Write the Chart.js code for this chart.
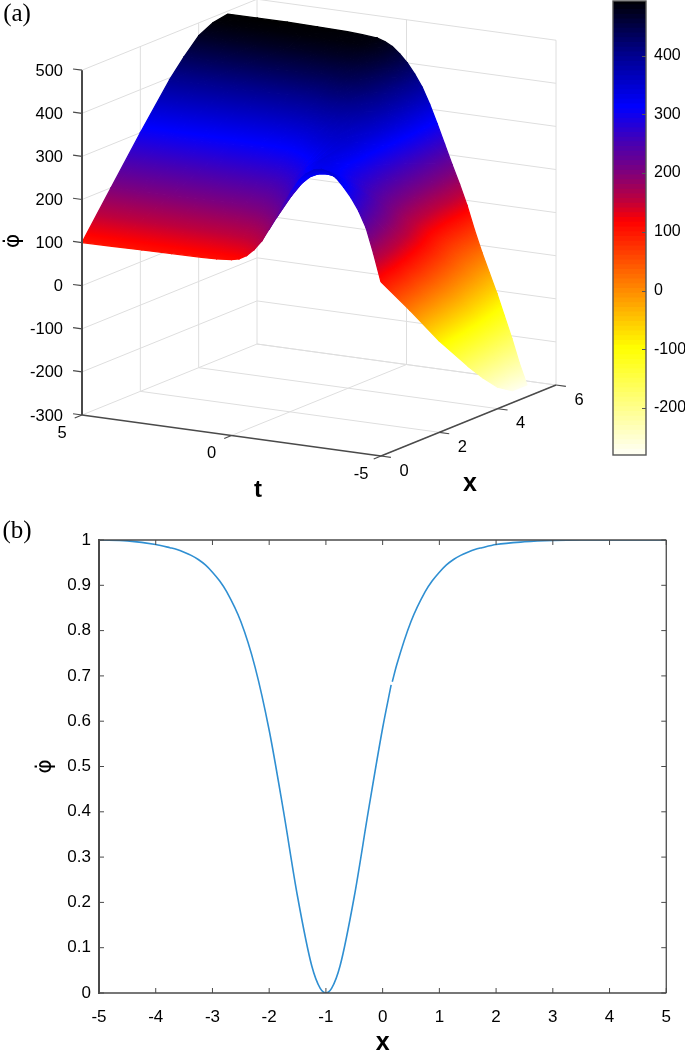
<!DOCTYPE html>
<html>
<head>
<meta charset="utf-8">
<title>Surface and profile</title>
<script src="https://cdn.jsdelivr.net/npm/chart.js@4"></script>
<style>
  html, body { margin: 0; padding: 0; background: #fff; }
  #page { position: relative; width: 685px; height: 1051px; overflow: hidden; }
  canvas { position: absolute; }
</style>
</head>
<body>
<div id="page">
  <canvas id="surfaceChart" width="685" height="510" style="left:0;top:0"></canvas>
  <canvas id="colorbarChart" width="85" height="470" style="left:600px;top:0"></canvas>
  <canvas id="profileChart" width="685" height="541" style="left:0;top:510px"></canvas>
</div>
<script>
// panel (a): phi, one row per x, one value per t
const tValues = [5, 4, 3, 2, 1, 0.5, 0, -0.25, -0.5, -0.75, -1, -1.25, -1.5, -1.75, -2, -2.25, -2.5, -2.75, -3, -3.25, -3.5, -3.75, -4, -4.25, -4.5, -4.75, -5];
const xValues = [0, 1, 2, 3, 3.5, 4, 4.5, 5];
const phiAtX0 = [100, 101, 102, 103, 104, 105, 108, 112, 122, 138, 160, 190, 220, 252, 285, 313, 331, 342, 346, 342, 331, 312, 290, 262, 225, 168, 104];
const phiAtX1 = [200, 200, 200, 201, 203, 205, 212, 220, 232, 247, 265, 286, 305, 320, 330, 328, 318, 306, 293, 280, 265, 242, 215, 182, 140, 85, 10];
const phiAtX2 = [300, 300, 300, 301, 303, 306, 312, 319, 328, 337, 345, 350, 352, 351, 345, 325, 295, 270, 245, 220, 195, 170, 143, 105, 60, -5, -88];
const phiAtX3 = [395, 395, 395, 396, 398, 400, 405, 409, 412, 410, 405, 396, 385, 367, 345, 310, 270, 235, 200, 165, 130, 102, 71, 30, -20, -90, -175];
const phiAtX35 = [435, 435, 435, 436, 438, 439, 440, 441, 440, 434, 425, 412, 395, 372, 342, 302, 258, 220, 180, 140, 100, 68, 35, -10, -60, -130, -215];
const phiAtX4 = [470, 470, 470, 470, 470, 470, 468, 464, 458, 447, 432, 415, 395, 368, 335, 292, 245, 205, 160, 115, 70, 35, 0, -48, -100, -170, -250];
const phiAtX45 = [487, 487, 487, 487, 486, 485, 482, 476, 468, 455, 437, 417, 392, 360, 322, 278, 230, 188, 145, 95, 45, 5, -35, -85, -135, -205, -272];
const phiAtX5 = [493, 493, 493, 492, 490, 488, 485, 479, 470, 455, 437, 413, 385, 348, 305, 260, 215, 172, 125, 70, 20, -25, -70, -120, -170, -225, -272];
const surfaceRows = [phiAtX0, phiAtX1, phiAtX2, phiAtX3, phiAtX35, phiAtX4, phiAtX45, phiAtX5];

const zTicks = [-300, -200, -100, 0, 100, 200, 300, 400, 500];
const tTicks = [5, 0, -5];
const xTicks = [0, 2, 4, 6];
const colorbarTicks = [-200, -100, 0, 100, 200, 300, 400];
const colorbarRange = [-280, 493];

const cmapLevels = [-280, -100, 0, 115, 150, 200, 250, 310, 400, 493];
const cmapColors = [[255, 255, 245], [255, 255, 0], [255, 136, 0], [255, 0, 0], [190, 0, 60], [125, 0, 125], [70, 0, 180], [0, 0, 255], [0, 0, 140], [0, 0, 0]];

// panel (b), the null is the small break in the curve just right of x = 0
const profileX = [-5, -4.5, -4, -3.75, -3.625, -3.5, -3.375, -3.25, -3.125, -3, -2.875, -2.75, -2.5, -2.25, -2, -1.75, -1.5, -1.25, -1.1, -1, -0.9, -0.75, -0.5, -0.25, 0, 0.15, 0.16, 0.17, 0.25, 0.5, 0.75, 0.875, 1, 1.125, 1.25, 1.375, 1.5, 1.625, 1.75, 2, 2.5, 3, 3.5, 4, 4.5, 5];
const profilePhi = [1, 0.998, 0.99, 0.983, 0.979, 0.973, 0.966, 0.957, 0.945, 0.929, 0.91, 0.886, 0.82, 0.72, 0.58, 0.403, 0.213, 0.06, 0.01, 0, 0.01, 0.06, 0.213, 0.403, 0.585, 0.68, null, 0.687, 0.725, 0.82, 0.886, 0.91, 0.929, 0.945, 0.957, 0.966, 0.973, 0.979, 0.983, 0.99, 0.996, 0.999, 1, 1, 1, 1];
const profileXTicks = [-5, -4, -3, -2, -1, 0, 1, 2, 3, 4, 5];
const profileYTicks = [0, 0.1, 0.2, 0.3, 0.4, 0.5, 0.6, 0.7, 0.8, 0.9, 1];

const tickFont = '16.5px "Liberation Sans"';
const inkColor = '#000';
const axisColor = '#4a4a4a';
const gridColor = '#dedede';
const phiLabel = '\u03c6\u0307';

// fixed view of the 3D box onto the flat x/y scales of the top chart
function project(x, t, z) {
  return {
    x: 82 + 29.9 * (5 - t) + 29.17 * x,
    y: 415 + 4.1 * (5 - t) - 11.83 * x - 0.431 * (z + 300)
  };
}

function colorAt(z) {
  let i = 0;
  while (i < cmapLevels.length - 2 && z > cmapLevels[i + 1]) i++;
  const f = Math.min(1, Math.max(0, (z - cmapLevels[i]) / (cmapLevels[i + 1] - cmapLevels[i])));
  const a = cmapColors[i], b = cmapColors[i + 1];
  return 'rgb(' + [0, 1, 2].map(k => Math.round(a[k] + (b[k] - a[k]) * f)).join(',') + ')';
}

// each triangle has phi linear over it, so one linear gradient shades it exactly
function triangleGradient(chart, tri) {
  const sx = chart.scales.x, sy = chart.scales.y;
  const zs = tri.map(v => v.z);
  const lo = Math.min(...zs), hi = Math.max(...zs);
  if (!sx || !sy) return colorAt((lo + hi) / 2);
  const p = tri.map(v => ({ x: sx.getPixelForValue(v.pos.x), y: sy.getPixelForValue(v.pos.y), z: v.z }));
  const ux = p[1].x - p[0].x, uy = p[1].y - p[0].y, uz = p[1].z - p[0].z;
  const vx = p[2].x - p[0].x, vy = p[2].y - p[0].y, vz = p[2].z - p[0].z;
  const det = ux * vy - uy * vx;
  // scales have no pixels yet on the first pass, det is NaN then
  if (!(Math.abs(det) >= 0.01) || hi - lo < 0.5) return colorAt((lo + hi) / 2);
  const gx = (uz * vy - uy * vz) / det, gy = (ux * vz - uz * vx) / det;
  const g2 = gx * gx + gy * gy;
  const start = p[zs.indexOf(lo)];
  const grad = chart.ctx.createLinearGradient(start.x, start.y,
    start.x + gx * (hi - lo) / g2, start.y + gy * (hi - lo) / g2);
  grad.addColorStop(0, colorAt(lo));
  cmapLevels.forEach(level => {
    if (level > lo && level < hi) grad.addColorStop((level - lo) / (hi - lo), colorAt(level));
  });
  grad.addColorStop(1, colorAt(hi));
  return grad;
}

function triangleDataset(tri) {
  const paint = ctx => triangleGradient(ctx.chart, tri);
  const pts = tri.map(v => v.pos);
  return {
    data: [pts[0], pts[1], pts[2], pts[0]],
    fill: 'shape',
    backgroundColor: paint,
    borderColor: paint,
    borderWidth: 1.3,
    borderJoinStyle: 'round',
    pointRadius: 0
  };
}

function lineDataset(a, b, color, width) {
  return { data: [a, b], borderColor: color, borderWidth: width, pointRadius: 0, fill: false };
}

// first dataset is painted last, so: axes, then the surface near to far, then the grid
const axisSets = [];
const surfaceSets = [];
const gridSets = [];

const zLow = zTicks[0], zHigh = zTicks[zTicks.length - 1];
const xHigh = xTicks[xTicks.length - 1];

zTicks.forEach(z => {
  gridSets.push(lineDataset(project(0, 5, z), project(xHigh, 5, z), gridColor, 1));
  gridSets.push(lineDataset(project(xHigh, 5, z), project(xHigh, -5, z), gridColor, 1));
  axisSets.push(lineDataset(project(0, 5, z), project(0, 5.3, z), axisColor, 1.2));
});
xTicks.slice(1).forEach(x => {
  gridSets.push(lineDataset(project(x, 5, zLow), project(x, 5, zHigh), gridColor, 1));
  gridSets.push(lineDataset(project(x, 5, zLow), project(x, -5, zLow), gridColor, 1));
});
tTicks.slice(1).forEach(t => {
  gridSets.push(lineDataset(project(xHigh, t, zLow), project(xHigh, t, zHigh), gridColor, 1));
  gridSets.push(lineDataset(project(0, t, zLow), project(xHigh, t, zLow), gridColor, 1));
});
axisSets.push(lineDataset(project(0, 5, zLow), project(0, 5, zHigh), axisColor, 2));
axisSets.push(lineDataset(project(0, 5, zLow), project(0, -5, zLow), axisColor, 1.4));
axisSets.push(lineDataset(project(0, -5, zLow), project(xHigh, -5, zLow), axisColor, 1.4));
tTicks.forEach(t => axisSets.push(lineDataset(project(0, t, zLow), project(-0.25, t, zLow), axisColor, 1.1)));
xTicks.forEach(x => axisSets.push(lineDataset(project(x, -5, zLow), project(x, -5.33, zLow), axisColor, 1.1)));

function vertex(i, j) {
  const x = xValues[i], t = tValues[j], z = surfaceRows[i][j];
  return { pos: project(x, t, z), z: z };
}
for (let i = 0; i < xValues.length - 1; i++) {
  for (let j = tValues.length - 2; j >= 0; j--) {
    surfaceSets.push(triangleDataset([vertex(i, j + 1), vertex(i + 1, j + 1), vertex(i, j)]));
    surfaceSets.push(triangleDataset([vertex(i + 1, j + 1), vertex(i + 1, j), vertex(i, j)]));
  }
}

function drawText(ctx, text, x, y, font, align, rotate) {
  ctx.save();
  ctx.font = font;
  ctx.fillStyle = inkColor;
  ctx.textAlign = align || 'center';
  ctx.textBaseline = 'middle';
  ctx.translate(x, y);
  if (rotate) ctx.rotate(rotate);
  ctx.fillText(text, 0, 0);
  ctx.restore();
}

const surfaceLabels = {
  id: 'surfaceLabels',
  afterDraw(chart) {
    const ctx = chart.ctx, sx = chart.scales.x, sy = chart.scales.y;
    const at = p => ({ x: sx.getPixelForValue(p.x), y: sy.getPixelForValue(p.y) });
    zTicks.forEach(z => {
      const p = at(project(0, 5, z));
      drawText(ctx, String(z), p.x - 19, p.y + 1, tickFont, 'right');
    });
    tTicks.forEach(t => {
      const p = at(project(0, t, zLow));
      drawText(ctx, String(t), p.x - 20, p.y + 18, tickFont);
    });
    xTicks.forEach(x => {
      const p = at(project(x, -5, zLow));
      drawText(ctx, String(x), p.x + 23, p.y + 15, tickFont);
    });
    drawText(ctx, 't', 258, 490, 'bold 24px "Liberation Sans"');
    drawText(ctx, 'x', 470, 484, 'bold 25px "Liberation Sans"');
    drawText(ctx, phiLabel, 13, 241, '22px "DejaVu Sans"', 'center', -Math.PI / 2);
    drawText(ctx, '(a)', 17, 14, '25px "Liberation Serif"');
  }
};

new Chart(document.getElementById('surfaceChart'), {
  type: 'line',
  data: { datasets: axisSets.concat(surfaceSets, gridSets) },
  options: {
    responsive: false,
    animation: false,
    events: [],
    layout: { padding: 0 },
    plugins: { legend: { display: false }, tooltip: { enabled: false } },
    scales: {
      x: { type: 'linear', min: 0, max: 685, display: false },
      y: { type: 'linear', min: 0, max: 510, reverse: true, display: false }
    }
  },
  plugins: [surfaceLabels]
});

// colour bar: floating bars, one per colour band
const bandCount = 96;
const bandSets = [];
for (let b = 0; b < bandCount; b++) {
  const lo = colorbarRange[0] + (colorbarRange[1] - colorbarRange[0]) * b / bandCount;
  const hi = colorbarRange[0] + (colorbarRange[1] - colorbarRange[0]) * (b + 1) / bandCount;
  bandSets.push({
    data: [[lo, Math.min(hi + 2, colorbarRange[1])]],
    backgroundColor: colorAt((lo + hi) / 2),
    barPercentage: 1,
    categoryPercentage: 1,
    grouped: false
  });
}

const colorbarFrame = {
  id: 'colorbarFrame',
  afterDraw(chart) {
    const ctx = chart.ctx, a = chart.chartArea, sy = chart.scales.y;
    ctx.save();
    ctx.strokeStyle = '#555';
    ctx.lineWidth = 1.4;
    ctx.strokeRect(a.left, a.top, a.right - a.left, a.bottom - a.top);
    ctx.lineWidth = 1;
    colorbarTicks.forEach(v => {
      const y = Math.round(sy.getPixelForValue(v)) + 0.5;
      ctx.beginPath();
      ctx.moveTo(a.right, y);
      ctx.lineTo(a.right - 4, y);
      ctx.stroke();
    });
    ctx.restore();
  }
};

new Chart(document.getElementById('colorbarChart'), {
  type: 'bar',
  data: { labels: [''], datasets: bandSets },
  options: {
    responsive: false,
    animation: false,
    events: [],
    layout: { padding: { left: 13, top: 1, bottom: 15, right: 0 } },
    plugins: { legend: { display: false }, tooltip: { enabled: false } },
    scales: {
      x: { display: false, stacked: false },
      y: {
        position: 'right',
        min: colorbarRange[0],
        max: colorbarRange[1],
        afterBuildTicks: s => { s.ticks = colorbarTicks.map(v => ({ value: v })); },
        afterFit: s => { s.width = 39; s.paddingTop = 0; s.paddingBottom = 0; },
        grid: { display: false, drawTicks: false },
        border: { display: false },
        ticks: {
          padding: 8,
          font: { family: 'Liberation Sans', size: 16 },
          color: inkColor,
          autoSkip: false,
          callback: v => String(v)
        }
      }
    }
  },
  plugins: [colorbarFrame]
});

// panel (b): boxed axes with the tick marks on the inside
const profileFrame = {
  id: 'profileFrame',
  afterDraw(chart) {
    const ctx = chart.ctx, a = chart.chartArea, sx = chart.scales.x, sy = chart.scales.y;
    const seg = (x0, y0, x1, y1, w) => {
      ctx.lineWidth = w;
      ctx.beginPath();
      ctx.moveTo(x0, y0);
      ctx.lineTo(x1, y1);
      ctx.stroke();
    };
    ctx.save();
    ctx.strokeStyle = axisColor;
    seg(a.left, a.top - 1, a.left, a.bottom + 1, 2);
    seg(a.left, a.bottom, a.right, a.bottom, 1.6);
    seg(a.left, a.top, a.right, a.top, 1.3);
    seg(a.right, a.top, a.right, a.bottom, 1.3);
    profileXTicks.forEach(v => {
      const x = sx.getPixelForValue(v);
      seg(x, a.bottom, x, a.bottom - 5, 1);
      seg(x, a.top, x, a.top + 5, 1);
    });
    profileYTicks.forEach(v => {
      const y = sy.getPixelForValue(v);
      seg(a.left, y, a.left + 5, y, 1);
      seg(a.right, y, a.right - 5, y, 1);
    });
    ctx.restore();
    drawText(ctx, '(b)', 17, 21, '25px "Liberation Serif"');
  }
};

new Chart(document.getElementById('profileChart'), {
  type: 'line',
  data: {
    labels: profileX,
    datasets: [{
      data: profileX.map((x, i) => ({ x: x, y: profilePhi[i] })),
      borderColor: '#2f8fd2',
      borderWidth: 1.6,
      pointRadius: 0,
      cubicInterpolationMode: 'monotone',
      fill: false
    }]
  },
  options: {
    responsive: false,
    animation: false,
    events: [],
    layout: { padding: { left: 0, top: 30, right: 12, bottom: 0 } },
    plugins: { legend: { display: false }, tooltip: { enabled: false } },
    scales: {
      x: {
        type: 'linear',
        min: -5,
        max: 5,
        afterBuildTicks: s => { s.ticks = profileXTicks.map(v => ({ value: v })); },
        afterFit: s => { s.height = 58; },
        grid: { display: false, drawTicks: false },
        border: { display: false },
        ticks: {
          padding: 14,
          maxRotation: 0,
          autoSkip: false,
          font: { family: 'Liberation Sans', size: 17 },
          color: inkColor,
          callback: v => String(v)
        },
        title: {
          display: true,
          text: 'x',
          color: inkColor,
          font: { family: 'Liberation Sans', size: 25, weight: 'bold', lineHeight: 0.6 },
          padding: { top: 0, bottom: 0 }
        }
      },
      y: {
        type: 'linear',
        min: 0,
        max: 1,
        afterBuildTicks: s => { s.ticks = profileYTicks.map(v => ({ value: v })); },
        afterFit: s => { s.width = 99; },
        grid: { display: false, drawTicks: false },
        border: { display: false },
        ticks: {
          padding: 8,
          autoSkip: false,
          font: { family: 'Liberation Sans', size: 17 },
          color: inkColor,
          callback: v => String(+v.toFixed(1))
        },
        title: {
          display: true,
          text: phiLabel,
          color: inkColor,
          font: { family: 'DejaVu Sans', size: 22, lineHeight: 1 },
          padding: { top: 34, bottom: 0 }
        }
      }
    }
  },
  plugins: [profileFrame]
});
</script>
</body>
</html>
